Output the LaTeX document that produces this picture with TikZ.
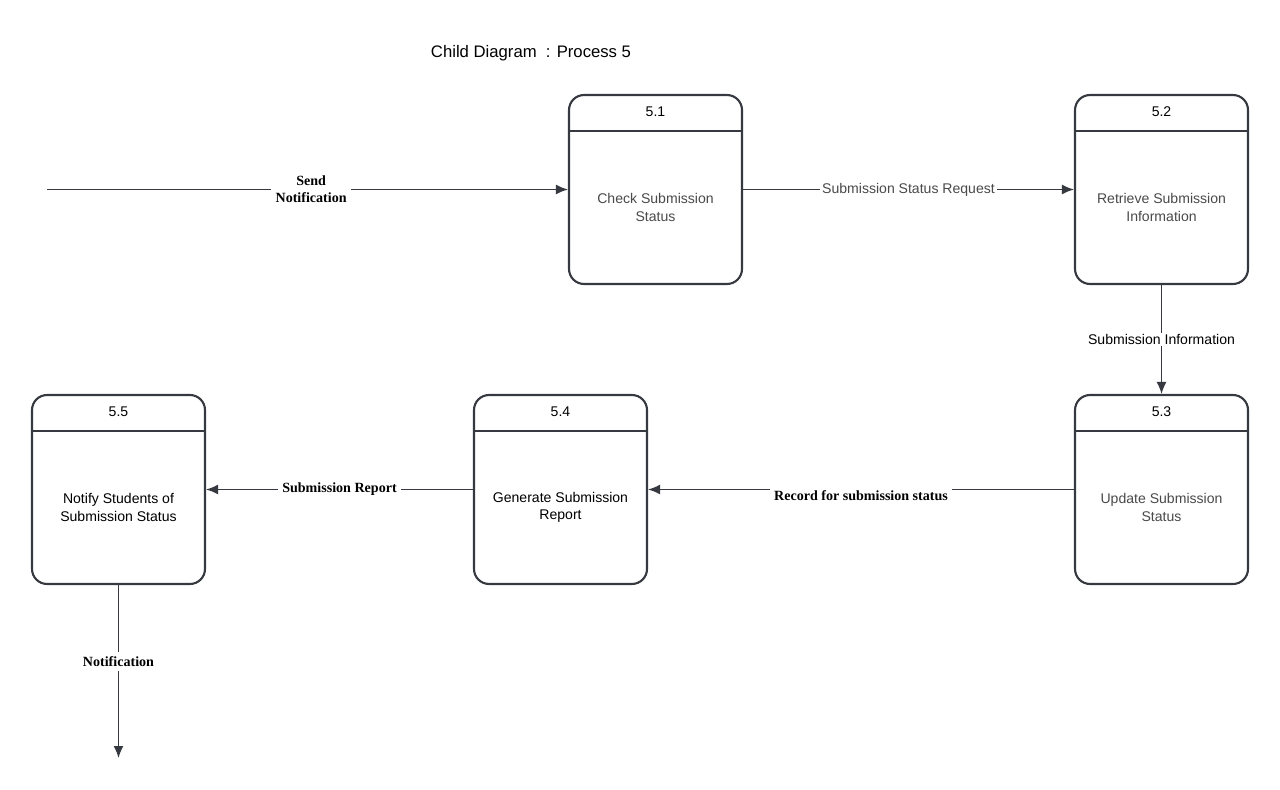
\documentclass[tikz,border=0pt]{standalone}
\usepackage{fontspec}
\setmainfont{Liberation Sans}
\newfontfamily\flowfont{Liberation Serif}
\usetikzlibrary{arrows.meta}
\definecolor{edgegray}{HTML}{363940}
\definecolor{txtgray}{HTML}{4A4A4A}
\tikzset{%
  proc/.style = {rectangle,draw=edgegray,line width=1.2pt,rounded corners=0.3cm,
        minimum width=3.46cm,minimum height=3.78cm},
  divider/.style = {draw=edgegray,line width=1.2pt},
  pnum/.style = {font=\fontsize{8}{9.6}\selectfont},
  ptext/.style = {align=center,font=\fontsize{8}{9.8}\selectfont},
  flow/.style = {-{Latex[length=2.4mm,width=2mm]},draw=edgegray,line width=0.85pt},
  flabel/.style = {fill=white,inner sep=1pt,font=\fontsize{8}{9.6}\selectfont},
  blabel/.style = {fill=white,inner sep=2.5pt,align=center,
        font=\flowfont\bfseries\fontsize{8}{9.6}\selectfont}
}

\begin{document}
\begin{tikzpicture}[x=0.02cm,y=-0.02cm]
  \useasboundingbox[fill=white] (0,0) rectangle (1280,790);
  \node[font=\fontsize{9.5}{11}\selectfont] (title) at (531,53) {Child Diagram\ \ : Process 5};

  \node[proc] (p51) at (655.5,189.5) {};
  \node[pnum] (n51) at ([yshift=-0.36cm]p51.north) {5.1};
  \node[ptext,text=txtgray] (t51) at ([yshift=-0.36cm]p51.center) {Check Submission\\Status};
  \draw[divider] ([yshift=-0.74cm]p51.north west) -- ([yshift=-0.74cm]p51.north east);

  \node[proc] (p52) at (1161.5,189.5) {};
  \node[pnum] (n52) at ([yshift=-0.36cm]p52.north) {5.2};
  \node[ptext,text=txtgray] (t52) at ([yshift=-0.36cm]p52.center) {Retrieve Submission\\Information};
  \draw[divider] ([yshift=-0.74cm]p52.north west) -- ([yshift=-0.74cm]p52.north east);

  \node[proc] (p53) at (1161.5,489.5) {};
  \node[pnum] (n53) at ([yshift=-0.36cm]p53.north) {5.3};
  \node[ptext,text=txtgray] (t53) at ([yshift=-0.36cm]p53.center) {Update Submission\\Status};
  \draw[divider] ([yshift=-0.74cm]p53.north west) -- ([yshift=-0.74cm]p53.north east);

  \node[proc] (p54) at (560.5,489.5) {};
  \node[pnum] (n54) at ([yshift=-0.36cm]p54.north) {5.4};
  \node[ptext] (t54) at ([yshift=-0.36cm]p54.center) {Generate Submission\\Report};
  \draw[divider] ([yshift=-0.74cm]p54.north west) -- ([yshift=-0.74cm]p54.north east);

  \node[proc] (p55) at (118.5,489.5) {};
  \node[pnum] (n55) at ([yshift=-0.36cm]p55.north) {5.5};
  \node[ptext] (t55) at ([yshift=-0.36cm]p55.center) {Notify Students of\\Submission Status};
  \draw[divider] ([yshift=-0.74cm]p55.north west) -- ([yshift=-0.74cm]p55.north east);

  \coordinate (src) at (47,189.5);
  \coordinate (sink) at (118.5,758);

  \draw[flow] (src) -- node[blabel,pos=.507] {Send\\Notification} (p51.west);
  \draw[flow] (p51.east) -- node[flabel,text=txtgray] {Submission Status Request} (p52.west);
  \draw[flow] (p52.south) -- node[flabel] {Submission Information} (p53.north);
  \draw[flow] (p53.west) -- node[blabel,yshift=-0.12cm] {Record for submission status} (p54.east);
  \draw[flow] (p54.west) -- node[blabel] {Submission Report} (p55.east);
  \draw[flow] (p55.south) -- node[blabel,pos=.44] {Notification} (sink);
\end{tikzpicture}
\end{document}
